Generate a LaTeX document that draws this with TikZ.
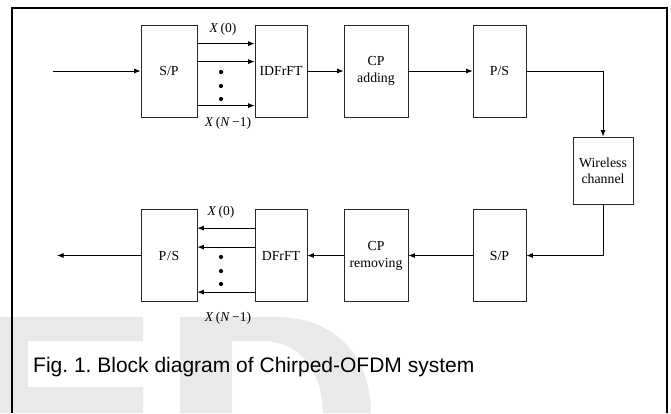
\documentclass[tikz,border=0pt]{standalone}
\usepackage{fontspec}
\setmainfont{Liberation Serif}
\newfontfamily\capfont{Liberation Sans}
\usetikzlibrary{arrows.meta,calc}
\definecolor{wmgray}{RGB}{233,233,233}
\definecolor{boxline}{RGB}{40,40,40}
\frenchspacing
\tikzset{
  blk/.style={draw=boxline, line width=0.8pt, minimum width=#1, minimum height=92pt,
    inner sep=0pt, align=center, font=\fontsize{13.8}{17}\selectfont},
  arr/.style={draw=black, line width=0.8pt, -{Latex[length=6.5pt,width=5pt]}},
  lbl/.style={inner sep=0pt, font=\fontsize{13.5}{15}\selectfont},
  dotmark/.style={circle, fill=black, inner sep=0pt, minimum size=4.2pt},
}
\begin{document}
\begin{tikzpicture}[x=1pt,y=-1pt]
\useasboundingbox (0,0) rectangle (671,413);
\fill[white] (0,0) rectangle (671,413);
% watermark
\fill[wmgray] (0,317) -- (143,317) -- (143,341) -- (28,341) -- (28,387) -- (143,387) -- (143,413) -- (0,413) -- cycle;
\fill[wmgray] (180,317) -- (275,317) .. controls (335,317) and (370,355) .. (371,413) -- (323,413)
  .. controls (322,370) and (300,341) .. (262,341) -- (232,341) -- (232,413) -- (180,413) -- cycle;
% frame
\draw[line width=2pt] (12,413) -- (12,8) -- (667,8) -- (667,413);
% top row
\node[blk=56pt] (sp1) at (169,71) {S/P};
\node[blk=52pt] (idf) at (281,71) {IDFrFT};
\node[blk=64pt] (cpa) at (376,71) {CP\\adding};
\node[blk=53pt] (ps1) at (499.5,71) {P/S};
\node[blk=60pt, minimum height=67pt, font=\fontsize{13.8}{16}\selectfont] (wc) at (603,170.5) {Wireless\\channel};
% bottom row
\node[blk=56pt] (ps2) at (169,255.5) {P\kern0.8pt/\kern0.8pt S};
\node[blk=52pt] (df) at (281,255.5) {DFrFT};
\node[blk=64pt] (cpr) at (376,255.5) {CP\\removing};
\node[blk=53pt] (sp2) at (499.5,255.5) {S/P};
\coordinate (in) at (53,71);
\coordinate (out) at (57,255.5);
% main chain
\draw[arr] (in) -- (sp1.west);
\draw[arr] (idf.east) -- (cpa.west);
\draw[arr] (cpa.east) -- (ps1.west);
\draw[arr] (ps1.east) -| (wc.north);
\draw[arr] (wc.south) |- (sp2.east);
\draw[arr] (sp2.west) -- (cpr.east);
\draw[arr] (cpr.west) -- (df.east);
\draw[arr] (ps2.west) -- (out);
% parallel top
\draw[arr] ($(sp1.north east)+(0,19)$) -- ($(idf.north west)+(0,19)$);
\draw[arr] ($(sp1.north east)+(0,37)$) -- ($(idf.north west)+(0,37)$);
\draw[arr] ($(sp1.north east)+(0,81)$) -- ($(idf.north west)+(0,81)$);
\node[dotmark] (d1) at (221,72) {};
\node[dotmark] (d2) at (221,86) {};
\node[dotmark] (d3) at (221,99) {};
\node[lbl] (x0a) at (223,29) {\textit{X}\,(0)};
\node[lbl] (xna) at (228,123) {\textit{X}\,(\textit{N}\,−1)};
% parallel bottom
\draw[arr] ($(df.north west)+(0,19)$) -- ($(ps2.north east)+(0,19)$);
\draw[arr] ($(df.north west)+(0,38)$) -- ($(ps2.north east)+(0,38)$);
\draw[arr] ($(df.north west)+(0,83)$) -- ($(ps2.north east)+(0,83)$);
\node[dotmark] (d4) at (221,257) {};
\node[dotmark] (d5) at (221,271) {};
\node[dotmark] (d6) at (221,284) {};
\node[lbl] (x0b) at (221,212) {\textit{X}\,(0)};
\node[lbl] (xnb) at (228,318) {\textit{X}\,(\textit{N}\,−1)};
% caption
\node[anchor=base west, inner sep=0pt, font=\capfont\fontsize{21}{24}\selectfont] (cap) at (33,372) {Fig. 1. Block diagram of Chirped-OFDM system};
\end{tikzpicture}
\end{document}
